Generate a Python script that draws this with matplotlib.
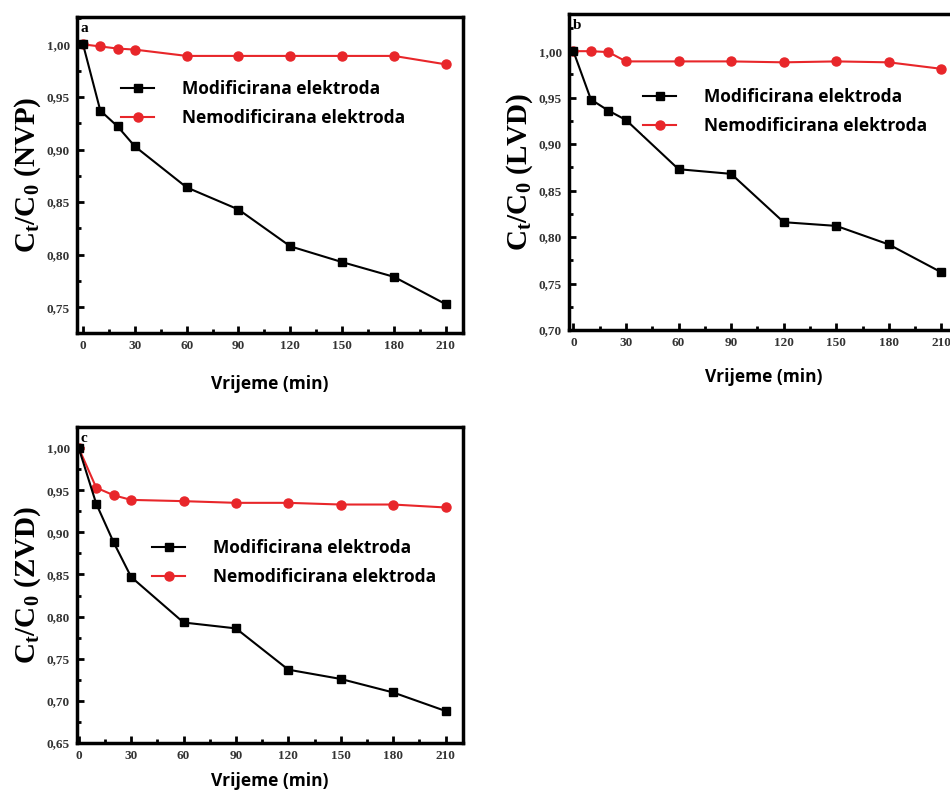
import numpy as np
import matplotlib
matplotlib.use('Agg')
import matplotlib.pyplot as plt
from matplotlib.ticker import MultipleLocator, FuncFormatter

# time points (min)
time = [0, 10, 20, 30, 60, 90, 120, 150, 180, 210]

# panel a (NVP)
mod_a = [1.000, 0.937, 0.922, 0.903, 0.864, 0.843, 0.808, 0.793, 0.779, 0.753]
nemod_a = [1.000, 0.998, 0.996, 0.995, 0.989, 0.989, 0.989, 0.989, 0.989, 0.981]

# panel b (LVD)
mod_b = [1.000, 0.948, 0.936, 0.926, 0.873, 0.868, 0.816, 0.812, 0.792, 0.762]
nemod_b = [1.000, 1.000, 0.999, 0.989, 0.989, 0.989, 0.988, 0.989, 0.988, 0.981]

# panel c (ZVD)
mod_c = [1.000, 0.934, 0.888, 0.847, 0.793, 0.786, 0.737, 0.726, 0.710, 0.688]
nemod_c = [1.000, 0.953, 0.944, 0.9385, 0.937, 0.935, 0.935, 0.933, 0.933, 0.9295]

xticks = [0, 30, 60, 90, 120, 150, 180, 210]
leg_labels = ['Modificirana elektroda', 'Nemodificirana elektroda']

serif = 'Liberation Serif'
sans = 'Open Sans'
plt.rcParams['mathtext.fontset'] = 'custom'
plt.rcParams['mathtext.rm'] = serif + ':bold'
plt.rcParams['mathtext.it'] = serif + ':bold'
plt.rcParams['mathtext.bf'] = serif + ':bold'

W, H = 950, 794
fig = plt.figure(figsize=(W / 100, H / 100), dpi=100)


def px_axes(left, top, right, bottom):
    return fig.add_axes([left / W, 1 - bottom / H, (right - left) / W, (bottom - top) / H])


def comma(v, pos):
    return f'{v:.2f}'.replace('.', ',')


def panel(ax, mod, nemod, letter, ylabel, xlim, ylim, leg_anchor, xlab_y, leg_frame=False):
    ax.plot(time, mod, color='black', marker='s', markersize=5.5, lw=1.5, label=leg_labels[0], zorder=3)
    ax.plot(time, nemod, color='#e8262a', marker='o', markersize=6.5, lw=1.5, label=leg_labels[1], zorder=2)
    ax.set_xlim(*xlim)
    ax.set_ylim(*ylim)
    ax.set_xticks(xticks)
    ax.xaxis.set_minor_locator(MultipleLocator(15))
    ax.yaxis.set_major_locator(MultipleLocator(0.05))
    ax.yaxis.set_minor_locator(MultipleLocator(0.025))
    ax.yaxis.set_major_formatter(FuncFormatter(comma))
    ax.tick_params(which='both', direction='in', width=2)
    ax.tick_params(which='major', length=5, labelsize=9.5, pad=5)
    ax.tick_params(which='minor', length=3)
    for lab in ax.get_xticklabels() + ax.get_yticklabels():
        lab.set_fontfamily(serif)
        lab.set_fontweight('bold')
        lab.set_color('#333333')
    for sp in ax.spines.values():
        sp.set_linewidth(2.5)
    ax.set_ylabel(ylabel, fontfamily=serif, fontweight='bold', fontsize=21, labelpad=3)
    ax.text(0.01, 0.985, letter, transform=ax.transAxes, ha='left', va='top',
            fontfamily=serif, fontweight='bold', fontsize=11)
    ax.text(0.5, xlab_y, 'Vrijeme (min)', transform=ax.transAxes, ha='center', va='center',
            fontfamily=sans, fontweight='bold', fontsize=12.5)
    leg = ax.legend(loc='upper left', bbox_to_anchor=leg_anchor, frameon=leg_frame,
                    prop={'family': sans, 'weight': 'bold', 'size': 12.5},
                    handlelength=1.9, handletextpad=1.6, labelspacing=0.6,
                    borderpad=0.0, borderaxespad=0.0, fancybox=False)
    if leg_frame:
        leg.get_frame().set_facecolor('white')
        leg.get_frame().set_edgecolor('none')


ax_a = px_axes(77, 17, 463, 333)
panel(ax_a, mod_a, nemod_a, 'a', r'$\mathregular{C_t/C_0}$ (NVP)', (-3.5, 220), (0.7256, 1.026),
      (0.115, 0.80), -0.16)

ax_b = px_axes(569, 14, 959, 330)
panel(ax_b, mod_b, nemod_b, 'b', r'$\mathregular{C_t/C_0}$ (LVD)', (-2.5, 220), (0.70, 1.04),
      (0.19, 0.765), -0.15, leg_frame=True)

ax_c = px_axes(77, 427, 463, 743)
panel(ax_c, mod_c, nemod_c, 'c', r'$\mathregular{C_t/C_0}$ (ZVD)', (-1, 220), (0.65, 1.025),
      (0.195, 0.645), -0.12)

fig.savefig('out.png', dpi=100)
